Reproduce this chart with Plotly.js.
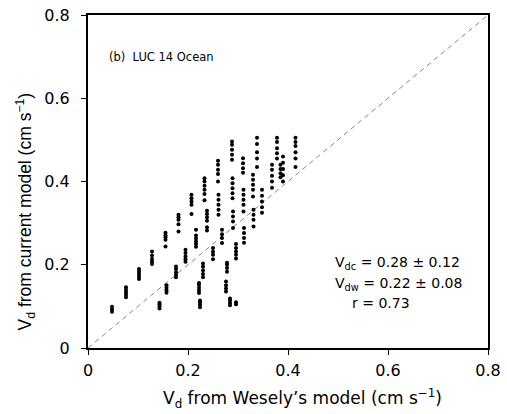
<!DOCTYPE html>
<html>
<head>
<meta charset="utf-8">
<script src="https://cdn.plot.ly/plotly-3.0.1.min.js"></script>
<style>html,body{margin:0;padding:0;background:#fff;}#chart{width:507px;height:414px;}</style>
</head>
<body>
<div id="chart"></div>
<script>
// Column clusters: x value (Wesely's model) and the y values (current model) stacked at it
const clusterX = [
  0.048, 0.076, 0.102, 0.128, 0.143, 0.155, 0.157, 0.176, 0.181, 0.195,
  0.207, 0.216, 0.222, 0.224, 0.233, 0.238, 0.230, 0.250, 0.260, 0.261,
  0.268, 0.278, 0.276, 0.284, 0.288, 0.289, 0.290, 0.296, 0.310, 0.311,
  0.312, 0.330, 0.331, 0.338, 0.348, 0.368, 0.378, 0.385, 0.390, 0.415
];
const clusterY = [
  [0.087, 0.093, 0.099],
  [0.122, 0.128, 0.134, 0.140, 0.146],
  [0.166, 0.172, 0.178, 0.184, 0.190],
  [0.202, 0.208, 0.214, 0.222, 0.232],
  [0.095, 0.100, 0.105, 0.109],
  [0.244, 0.260, 0.266, 0.271, 0.277],
  [0.133, 0.139, 0.145, 0.151],
  [0.170, 0.176, 0.182, 0.190, 0.196],
  [0.280, 0.297, 0.308, 0.314, 0.320],
  [0.207, 0.213, 0.220, 0.228, 0.236],
  [0.322, 0.344, 0.352, 0.360, 0.368],
  [0.243, 0.250, 0.256, 0.263, 0.270, 0.284],
  [0.132, 0.138, 0.145, 0.152, 0.156],
  [0.098, 0.104, 0.110, 0.114],
  [0.355, 0.370, 0.380, 0.390, 0.400, 0.408],
  [0.282, 0.290, 0.306, 0.314, 0.322, 0.330],
  [0.170, 0.178, 0.186, 0.195, 0.203],
  [0.213, 0.224, 0.231, 0.240],
  [0.400, 0.418, 0.428, 0.440, 0.450],
  [0.320, 0.332, 0.344, 0.356, 0.368],
  [0.252, 0.264, 0.273, 0.284],
  [0.183, 0.192, 0.200, 0.205],
  [0.136, 0.143, 0.151, 0.160],
  [0.103, 0.108, 0.114, 0.119],
  [0.452, 0.464, 0.476, 0.488, 0.496],
  [0.360, 0.372, 0.384, 0.396, 0.408],
  [0.288, 0.304, 0.316, 0.328],
  [0.215, 0.224, 0.232, 0.240, 0.250, 0.105, 0.110],
  [0.421, 0.432, 0.444, 0.456],
  [0.328, 0.344, 0.356, 0.368, 0.380],
  [0.253, 0.264, 0.276, 0.288],
  [0.364, 0.380, 0.392, 0.404, 0.416],
  [0.292, 0.308, 0.320, 0.332],
  [0.435, 0.455, 0.470, 0.490, 0.505],
  [0.325, 0.338, 0.352, 0.366, 0.380],
  [0.385, 0.400, 0.414, 0.428, 0.440],
  [0.455, 0.468, 0.480, 0.495, 0.505],
  [0.410, 0.420, 0.430, 0.440],
  [0.400, 0.415, 0.430, 0.445, 0.460],
  [0.435, 0.455, 0.470, 0.485, 0.495, 0.505]
];
const ticks = [0, 0.2, 0.4, 0.6, 0.8];
const tickText = ['0', '0.2', '0.4', '0.6', '0.8'];
const oneToOne = [0, 0.8];

const xs = [], ys = [];
clusterX.forEach((x, i) => clusterY[i].forEach(y => { xs.push(x); ys.push(y); }));

const wide = 'DejaVu Sans, Verdana, sans-serif';
const narrow = 'Liberation Sans, Arial, Helvetica, sans-serif';
const data = [
  {x: oneToOne, y: oneToOne, mode: 'lines', type: 'scatter',
   line: {color: '#666', width: 0.8, dash: '5px,4px'}, hoverinfo: 'skip'},
  {x: xs, y: ys, mode: 'markers', type: 'scatter',
   marker: {color: '#000', size: 4, symbol: 'circle'}}
];
const axisBase = {
  range: [0, 0.8], tickvals: ticks, ticktext: tickText,
  showgrid: false, zeroline: false, showline: true, mirror: true,
  linecolor: '#000', linewidth: 2, ticks: 'outside', ticklen: 5,
  tickwidth: 1, tickcolor: '#000', tickfont: {family: wide, size: 16, color: '#000'}
};
const layout = {
  width: 507, height: 414,
  margin: {l: 88, r: 19, t: 15, b: 66},
  paper_bgcolor: '#fff', plot_bgcolor: '#fff',
  showlegend: false,
  xaxis: Object.assign({}, axisBase, {ticklabelstandoff: 2}),
  yaxis: Object.assign({}, axisBase, {ticklabelstandoff: 8}),
  annotations: [
    {x: 0.535, y: -0.152, xref: 'paper', yref: 'paper', xanchor: 'center', yanchor: 'middle',
     text: 'V<sub>d</sub> from Wesely\u2019s model (cm s<sup>\u22121</sup>)', showarrow: false,
     font: {family: wide, size: 17, color: '#000'}},
    {x: -0.1575, y: 0.41, xref: 'paper', yref: 'paper', xanchor: 'center', yanchor: 'middle',
     textangle: -90,
     text: 'V<sub>d</sub> from current model (cm s<sup>\u22121</sup>)', showarrow: false,
     font: {family: narrow, size: 17.5, color: '#000'}},
    {x: 0.037, y: 0.698, xref: 'x', yref: 'y', xanchor: 'left', yanchor: 'middle',
     text: '(b)  LUC 14 Ocean', showarrow: false, font: {family: wide, size: 11.5, color: '#000'}},
    {x: 0.49, y: 0.205, xref: 'x', yref: 'y', xanchor: 'left', yanchor: 'middle',
     text: 'V<sub>dc</sub> = 0.28 \u00b1 0.12', showarrow: false, font: {family: wide, size: 14, color: '#000'}},
    {x: 0.49, y: 0.153, xref: 'x', yref: 'y', xanchor: 'left', yanchor: 'middle',
     text: 'V<sub>dw</sub> = 0.22 \u00b1 0.08', showarrow: false, font: {family: wide, size: 14, color: '#000'}},
    {x: 0.524, y: 0.108, xref: 'x', yref: 'y', xanchor: 'left', yanchor: 'middle',
     text: 'r = 0.73', showarrow: false, font: {family: wide, size: 14, color: '#000'}}
  ]
};
Plotly.newPlot('chart', data, layout, {staticPlot: true, displayModeBar: false});
</script>
</body>
</html>
